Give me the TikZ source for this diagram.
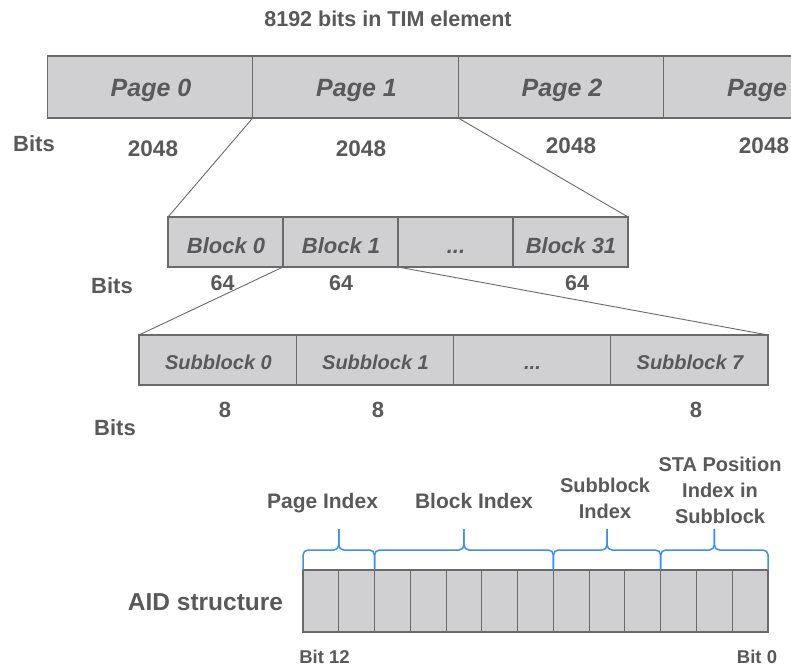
\documentclass[tikz,border=0pt]{standalone}
\usepackage{fontspec}
\setmainfont{Liberation Sans}
\usetikzlibrary{calc}
\definecolor{txt}{HTML}{595959}
\definecolor{cellfill}{HTML}{D0D0D2}
\definecolor{cellline}{HTML}{6A6A6A}
\definecolor{braceblue}{HTML}{3D8EF0}
\newcommand{\fs}[1]{\fontsize{#1}{#1}\selectfont}
\begin{document}
\begin{tikzpicture}[x=1pt,y=-1pt,
  cell/.style={draw=cellline,fill=cellfill,line width=1.1pt,inner sep=0pt,outer sep=0pt},
  pagecell/.style={cell,minimum width=205.5pt,minimum height=62pt},
  blockcell/.style={cell,minimum width=115pt,minimum height=50pt},
  subcell/.style={cell,minimum width=157.25pt,minimum height=50pt},
  aidcell/.style={cell,minimum width=35.77pt,minimum height=62pt},
  celltext/.style={text=txt,inner sep=0pt,anchor=base,font=\fs{#1}\bfseries\itshape},
  lbl/.style={text=txt,inner sep=0pt,anchor=base,font=\fs{#1}\bfseries},
  zoomline/.style={draw=cellline,line width=0.9pt},
  bracestyle/.style={draw=braceblue,line width=1.5pt,rounded corners=5pt},
  bracelbl/.style={text=txt,font={\fontsize{#1}{26}\selectfont\bfseries},align=center,inner sep=0pt}]
\clip (0,0) rectangle (791,667);
\fill[white] (0,0) rectangle (791,667);

% title
\node[lbl=21.5] (title) at (388,26) {8192 bits in TIM element};

% pages
\node[pagecell] (p0) at (150.0,87) {};
\node[pagecell] (p1) at (355.5,87) {};
\node[pagecell] (p2) at (561.0,87) {};
\node[pagecell] (p3) at (766.5,87) {};
\node[celltext=25] (tp0) at (151,96.7) {Page 0};
\node[celltext=25] (tp1) at (356.5,96.7) {Page 1};
\node[celltext=25] (tp2) at (562,96.7) {Page 2};
\node[celltext=25] (tp3) at (767.5,96.7) {Page 3};
\node[lbl=22] (bits1) at (34,151.7) {Bits};
\node[lbl=22.5] (n0) at (153,156.7) {2048};
\node[lbl=22.5] (n1) at (361,156.7) {2048};
\node[lbl=22.5] (n2) at (571,153.7) {2048};
\node[lbl=22.5] (n3) at (764,153.7) {2048};

% blocks
\node[blockcell] (b0) at (225.5,242) {};
\node[blockcell] (b1) at (340.5,242) {};
\node[blockcell] (b2) at (455.5,242) {};
\node[blockcell] (b3) at (570.5,242) {};
\node[celltext=22] (tb0) at (226,253.3) {Block 0};
\node[celltext=22] (tb1) at (341,253.3) {Block 1};
\node[celltext=22] (tb2) at (456,253.3) {...};
\node[celltext=22] (tb3) at (571,253.3) {Block 31};
\node[lbl=22] (bits2) at (112,293) {Bits};
\node[lbl=21.5] (m0) at (222.5,290) {64};
\node[lbl=21.5] (m1) at (341,290) {64};
\node[lbl=21.5] (m2) at (577,290) {64};

% subblocks
\node[subcell] (s0) at (217.6,360) {};
\node[subcell] (s1) at (374.9,360) {};
\node[subcell] (s2) at (532.1,360) {};
\node[subcell] (s3) at (689.4,360) {};
\node[celltext=20] (ts0) at (218.5,369) {Subblock 0};
\node[celltext=20] (ts1) at (375.5,369) {Subblock 1};
\node[celltext=20] (ts2) at (532.5,369) {...};
\node[celltext=20] (ts3) at (690,369) {Subblock 7};
\node[lbl=22] (bits3) at (115,435) {Bits};
\node[lbl=22] (k0) at (225,417) {8};
\node[lbl=22] (k1) at (378,417) {8};
\node[lbl=22] (k2) at (696,417) {8};

% zoom connectors
\draw[zoomline] (p1.south west) -- (b0.north west);
\draw[zoomline] (p1.south east) -- (b3.north east);
\draw[zoomline] (b1.south west) -- (s0.north west);
\draw[zoomline] (b1.south east) -- (s3.north east);

% AID structure: 13 bits
\foreach \i in {0,...,12} {
  \node[aidcell] (c\i) at ({303+35.77*(\i+0.5)},601) {};
}
\node[lbl=24.5] (aid) at (205.5,610) {AID structure};
\node[lbl=18.5] (bit12) at (324.5,663) {Bit 12};
\node[lbl=18.5] (bit0) at (757,663) {Bit 0};

% braces over the bit fields
\foreach \a/\b/\n in {0/1/pg,2/6/bl,7/9/sb,10/12/sta} {
  \coordinate (tip\n) at ($(c\a.north west)!0.5!(c\b.north east)+(0,-41)$);
  \draw[bracestyle] (c\a.north west) -- ++(0,-20) -| (tip\n);
  \draw[bracestyle] (c\b.north east) -- ++(0,-20) -| (tip\n);
}
\node[lbl=21] (lpg) at (322.5,508) {Page Index};
\node[lbl=21] (lbl) at (474,508) {Block Index};
\node[bracelbl=20] (lsb) at (605,498.5) {Subblock\\Index};
\node[bracelbl=20] (lsta) at (720,490) {STA Position\\Index in\\Subblock};
\end{tikzpicture}
\end{document}
